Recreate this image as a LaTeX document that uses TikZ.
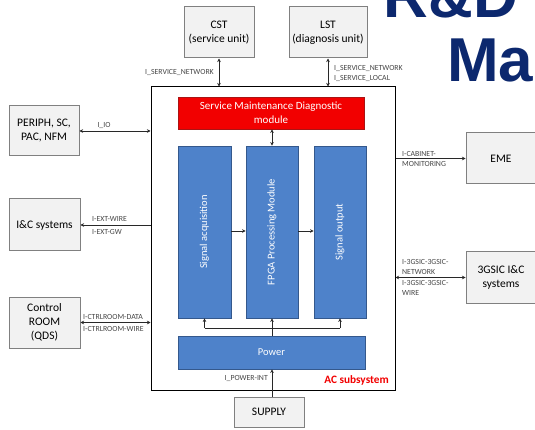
\documentclass[tikz,border=0pt]{standalone}
\usepackage{fontspec}
\setmainfont{Carlito}
\newfontfamily\titlefont{Liberation Sans}
\usetikzlibrary{arrows.meta}

\definecolor{boxgray}{RGB}{242,242,242}
\definecolor{boxedge}{RGB}{128,128,128}
\definecolor{blockblue}{RGB}{78,130,202}
\definecolor{blockedge}{RGB}{52,88,140}
\definecolor{smdred}{RGB}{242,0,0}
\definecolor{smdedge}{RGB}{170,20,20}
\definecolor{titlenavy}{RGB}{12,40,110}
\definecolor{labelgray}{RGB}{70,70,70}
\definecolor{wire}{RGB}{40,40,40}

\tikzset{
  extbox/.style={draw=boxedge, fill=boxgray, line width=1pt, align=center,
    inner sep=0pt, font=\fontsize{11.5}{14}\selectfont},
  block/.style={draw=blockedge, fill=blockblue, line width=0.8pt, text=white,
    inner sep=0pt, font=\fontsize{10.5}{13}\selectfont},
  ifl/.style={text=labelgray, inner sep=0pt, align=left,
    font=\fontsize{7.8}{10}\selectfont},
  link/.style={draw=wire, line width=0.8pt},
  both/.style={link, {Stealth[length=3.5pt,width=3.5pt]}-{Stealth[length=3.5pt,width=3.5pt]}},
  fwd/.style={link, -{Stealth[length=3.5pt,width=3.5pt]}},
}

\begin{document}
\begin{tikzpicture}[x=1pt,y=-1pt]
\useasboundingbox (0,0) rectangle (535,430);
\clip (0,0) rectangle (535,430);
\fill[white] (0,0) rectangle (535,430);

% slide title fragments
\node[anchor=base east, inner sep=0pt, text=titlenavy,
      font=\titlefont\bfseries\fontsize{62}{62}\selectfont] (ttl1) at (518,18) {R\&D};
\node[anchor=base west, inner sep=0pt, text=titlenavy,
      font=\titlefont\bfseries\fontsize{62}{62}\selectfont] (ttl2) at (447,82) {Ma};

% AC subsystem frame
\node[draw=black, fill=white, line width=1pt, minimum width=244pt, minimum height=303pt,
      inner sep=0pt] (acsys) at (273,238.5) {};
\node[anchor=base east, inner sep=0pt, text=smdred,
      font=\bfseries\fontsize{11.3}{13}\selectfont] (aclabel) at (389,383) {AC subsystem};

% internal modules
\node[draw=smdedge, fill=smdred, text=white, line width=0.8pt, align=center,
      inner sep=0pt, minimum width=186pt, minimum height=32pt,
      font=\fontsize{11}{14}\selectfont] (smd) at (271,113)
      {Service Maintenance Diagnostic\\module};
\node[block, minimum width=53pt, minimum height=172pt] (acq) at (204.5,232) {};
\node[block, minimum width=52pt, minimum height=172pt] (fpga) at (272,232) {};
\node[block, minimum width=52pt, minimum height=172pt] (sout) at (340,232) {};
\node[block, rotate=90, draw=none, fill=none] (acqtxt) at (acq.center) {Signal acquisition};
\node[block, rotate=90, draw=none, fill=none] (fpgatxt) at (fpga.center) {FPGA Processing Module};
\node[block, rotate=90, draw=none, fill=none] (souttxt) at (sout.center) {Signal output};
\node[block, minimum width=187pt, minimum height=33pt] (power) at (271.5,352.5) {Power};

% external units
\node[extbox, minimum width=70pt, minimum height=51pt] (cst) at (219,32.5) {CST\\(service unit)};
\node[extbox, minimum width=78pt, minimum height=51pt] (lst) at (328,32.5) {LST\\(diagnosis unit)};
\node[extbox, minimum width=70pt, minimum height=50pt] (periph) at (44,131) {PERIPH, SC,\\PAC, NFM};
\node[extbox, minimum width=71pt, minimum height=52pt] (ic) at (44.5,225) {I\&C systems};
\node[extbox, minimum width=71pt, minimum height=51pt] (ctrl) at (44.5,322.5) {Control\\ROOM\\(QDS)};
\node[extbox, minimum width=70pt, minimum height=51pt] (eme) at (501,158.5) {EME};
\node[extbox, minimum width=70pt, minimum height=51pt] (gsic) at (501,277.5) {3GSIC I\&C\\systems};
\node[extbox, minimum width=70pt, minimum height=30pt] (supply) at (269,412) {SUPPLY};

% external interfaces
\draw[both] (cst.south) -- (cst.south |- acsys.north);
\draw[both] (lst.south) -- (lst.south |- acsys.north);
\draw[both] (periph.east) -- (periph.east -| acsys.west);
\draw[fwd] (ic.east -| acsys.west) -- (ic.east);
\draw[both] (ctrl.east) -- (ctrl.east -| acsys.west);
\draw[fwd] (eme.west -| acsys.east) -- (eme.west);
\draw[both] (gsic.west -| acsys.east) -- (gsic.west);
\coordinate (pin) at (272,0);
\draw[fwd] (supply.north -| pin) -- (power.south -| pin);

% internal links
\draw[both] (smd.south -| fpga.north) -- (fpga.north);
\draw[fwd] (acq.east |- 0,231) -- (fpga.west |- 0,231);
\draw[fwd] (fpga.east |- 0,231) -- (sout.west |- 0,231);
\coordinate (bus) at (272,328);
\draw[fwd] (power.north -| fpga.south) -- (fpga.south);
\draw[link] (bus -| acq.south) -- (bus -| sout.south);
\draw[fwd] (bus -| acq.south) -- (acq.south);
\draw[fwd] (bus -| sout.south) -- (sout.south);

% interface names
\node[ifl, anchor=east] (l1) at (214,72) {I\_SERVICE\_NETWORK};
\node[ifl, anchor=west] (l2) at (334,73) {I\_SERVICE\_NETWORK\\I\_SERVICE\_LOCAL};
\node[ifl, anchor=south] (l3) at (104,129) {I\_IO};
\node[ifl, anchor=south west] (l4) at (92,222) {I-EXT-WIRE};
\node[ifl, anchor=north west] (l5) at (92,229) {I-EXT-GW};
\node[ifl, anchor=south west] (l6) at (83,320) {I-CTRLROOM-DATA};
\node[ifl, anchor=north west] (l7) at (83,326) {I-CTRLROOM-WIRE};
\node[ifl, anchor=south west] (l8) at (402,157) {I-CABINET-};
\node[ifl, anchor=north west] (l9) at (402,161) {MONITORING};
\node[ifl, anchor=south west] (l10) at (402,275) {I-3GSIC-3GSIC-\\NETWORK};
\node[ifl, anchor=north west] (l11) at (402,280) {I-3GSIC-3GSIC-\\WIRE};
\node[ifl, anchor=east] (l12) at (268,378) {I\_POWER-INT};
\end{tikzpicture}
\end{document}
